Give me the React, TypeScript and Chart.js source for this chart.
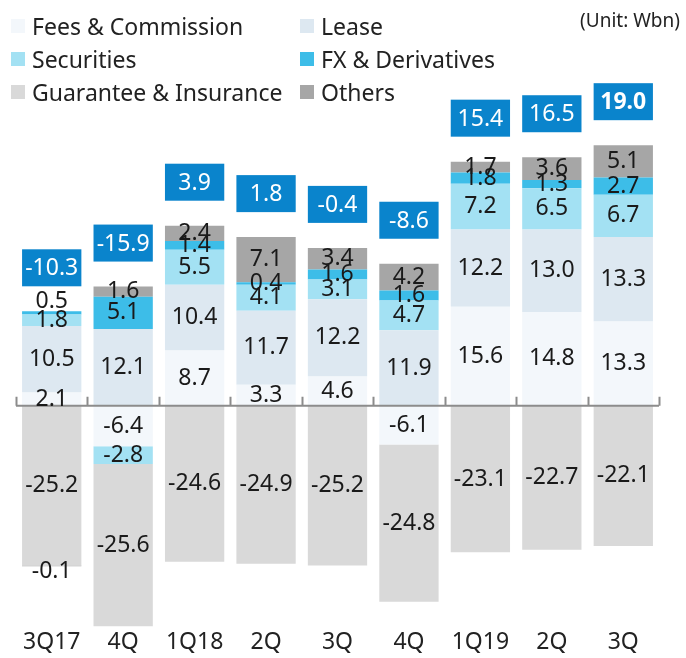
import React, { useEffect, useRef } from "react";
import { Chart, registerables } from "chart.js";

Chart.register(...registerables);

const categories = ["3Q17", "4Q", "1Q18", "2Q", "3Q", "4Q", "1Q19", "2Q", "3Q"];
const feesCommission = [2.1, -6.4, 8.7, 3.3, 4.6, -6.1, 15.6, 14.8, 13.3];
const lease = [10.5, 12.1, 10.4, 11.7, 12.2, 11.9, 12.2, 13.0, 13.3];
const securities = [1.8, -2.8, 5.5, 4.1, 3.1, 4.7, 7.2, 6.5, 6.7];
const fxDerivatives = [0.5, 5.1, 1.4, 0.4, 1.6, 1.6, 1.8, 1.3, 2.7];
const guaranteeInsurance = [-25.2, -25.6, -24.6, -24.9, -25.2, -24.8, -23.1, -22.7, -22.1];
const others = [-0.1, 1.6, 2.4, 7.1, 3.4, 4.2, 1.7, 3.6, 5.1];
const totals = [-10.3, -15.9, 3.9, 1.8, -0.4, -8.6, 15.4, 16.5, 19.0];

const seriesNames = [
  "Fees & Commission",
  "Lease",
  "Securities",
  "FX & Derivatives",
  "Guarantee & Insurance",
  "Others",
];
const seriesColors = ["#f3f7fb", "#dde8f1", "#a3e1f3", "#3dbde8", "#d9d9d9", "#a6a6a6"];

const FONT = "'Noto Sans', 'Open Sans', sans-serif";

const overlayPlugin = {
  id: "overlay",
  afterDatasetsDraw(chart: any) {
    const ctx = chart.ctx;
    const area = chart.chartArea;
    const yScale = chart.scales.y;
    const xScale = chart.scales.x;
    const zeroY = yScale.getPixelForValue(0);
    const n = chart.data.labels.length;
    const dsCount = chart.data.datasets.length;

    // zero line with boundary ticks
    ctx.save();
    ctx.strokeStyle = "#8c8c8c";
    ctx.lineWidth = 2;
    ctx.beginPath();
    ctx.moveTo(area.left, zeroY);
    ctx.lineTo(area.right, zeroY);
    const step = (area.right - area.left) / n;
    for (let i = 0; i <= n; i++) {
      const x = Math.round(area.left + step * i) + 0.5;
      ctx.moveTo(x, zeroY);
      ctx.lineTo(x, zeroY - 9);
    }
    ctx.stroke();
    ctx.restore();

    // segment labels
    ctx.save();
    ctx.font = `23px ${FONT}`;
    ctx.fillStyle = "#1a1a1a";
    ctx.textAlign = "center";
    ctx.textBaseline = "middle";
    for (let d = 0; d < dsCount; d++) {
      const meta = chart.getDatasetMeta(d);
      const data = chart.data.datasets[d].data;
      meta.data.forEach((el: any, i: number) => {
        const v = data[i];
        if (v === 0 || v == null) return;
        let outermost = true;
        for (let k = d + 1; k < dsCount; k++) {
          const w = chart.data.datasets[k].data[i];
          if ((v > 0 && w > 0) || (v < 0 && w < 0)) outermost = false;
        }
        let y = (el.y + el.base) / 2;
        if (outermost && Math.abs(v) < 1) {
          y = v > 0 ? Math.min(el.y, el.base) - 10 : Math.max(el.y, el.base) + 5;
        }
        ctx.fillText(v.toFixed(1), el.x, y);
      });
    }
    ctx.restore();

    // total boxes
    ctx.save();
    for (let i = 0; i < n; i++) {
      let top = zeroY;
      let width = 60;
      for (let d = 0; d < dsCount; d++) {
        const el = chart.getDatasetMeta(d).data[i];
        width = el.width;
        const v = chart.data.datasets[d].data[i];
        if (v > 0) top = Math.min(top, el.y);
      }
      const x = xScale.getPixelForValue(i);
      const bh = 37;
      const by = top - 25 - bh;
      ctx.fillStyle = "#0a84cc";
      ctx.fillRect(x - width / 2, by, width, bh);
      ctx.fillStyle = "#ffffff";
      ctx.textAlign = "center";
      ctx.textBaseline = "middle";
      ctx.font = `${i === n - 1 ? "bold " : ""}23px ${FONT}`;
      ctx.fillText(totals[i].toFixed(1), x, by + bh / 2 + 1);
    }
    ctx.restore();
  },
};

export default function App() {
  const ref = useRef<HTMLCanvasElement | null>(null);

  useEffect(() => {
    if (!ref.current) return;
    const values = [feesCommission, lease, securities, fxDerivatives, guaranteeInsurance, others];
    const chart = new Chart(ref.current, {
      type: "bar",
      data: {
        labels: categories,
        datasets: values.map((vals, k) => ({
          label: seriesNames[k],
          data: vals,
          backgroundColor: seriesColors[k],
          borderWidth: 0,
          categoryPercentage: 1,
          barPercentage: 0.83,
        })),
      },
      options: {
        animation: false,
        responsive: false,
        maintainAspectRatio: false,
        layout: { padding: { left: 16, right: 27, top: 0, bottom: 0 } },
        plugins: {
          legend: { display: false },
          tooltip: { enabled: false },
          title: { display: false },
        },
        scales: {
          x: {
            stacked: true,
            grid: { display: false, drawTicks: false },
            border: { display: false },
            ticks: {
              color: "#222222",
              font: { size: 23, family: FONT },
              padding: 2,
              maxRotation: 0,
              autoSkip: false,
            },
          },
          y: {
            stacked: true,
            display: false,
            min: -34.8,
            max: 64.0,
          },
        },
      },
      plugins: [overlayPlugin],
    });
    return () => chart.destroy();
  }, []);

  const legendItem = (k: number, left: number, top: number) => (
    <div
      key={k}
      style={{
        position: "absolute",
        left,
        top,
        display: "flex",
        alignItems: "center",
        height: 30,
        whiteSpace: "nowrap",
      }}
    >
      <span
        style={{
          display: "inline-block",
          width: 14,
          height: 14,
          background: seriesColors[k],
          marginRight: 7,
        }}
      />
      <span style={{ fontFamily: FONT, fontSize: 23, color: "#222" }}>{seriesNames[k]}</span>
    </div>
  );

  return (
    <div style={{ position: "absolute", left: 0, top: 0, width: 686, height: 658, background: "#fff" }}>
      <canvas ref={ref} width={686} height={658} style={{ position: "absolute", left: 0, top: 0 }} />
      {legendItem(0, 11, 11)}
      {legendItem(1, 300, 11)}
      {legendItem(2, 11, 44)}
      {legendItem(3, 300, 44)}
      {legendItem(4, 11, 77)}
      {legendItem(5, 300, 77)}
      <div
        style={{
          position: "absolute",
          right: 6,
          top: 7,
          fontFamily: FONT,
          fontSize: 19,
          color: "#222",
          whiteSpace: "nowrap",
        }}
      >
        (Unit: Wbn)
      </div>
    </div>
  );
}
